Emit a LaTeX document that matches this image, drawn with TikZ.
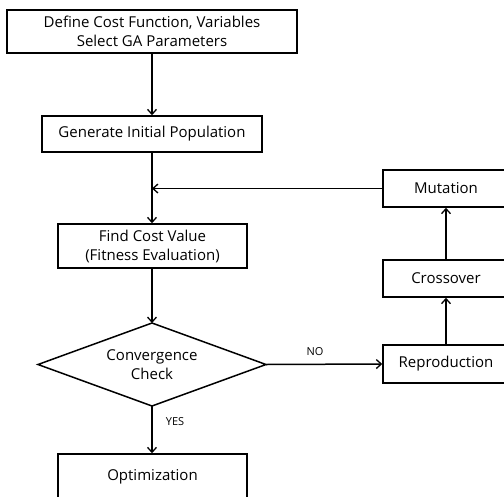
\documentclass[tikz,border=0pt]{standalone}
\usepackage{fontspec}
\setmainfont{Open Sans}
\usetikzlibrary{shapes.geometric,arrows.meta}
\begin{document}
\begin{tikzpicture}[x=1pt,y=-1pt,
  box/.style={draw,line width=1.5pt,rectangle,inner sep=0pt,align=center,font=\fontsize{15}{19}\selectfont},
  txt/.style={align=center,inner sep=0pt,font=\fontsize{15}{19}\selectfont},
  conn/.style={line width=1.5pt,-{Straight Barb[length=5pt,width=9pt,line width=1.3pt]}},
  lbl/.style={font=\fontsize{11}{13}\selectfont,inner sep=0pt}]
\useasboundingbox (0,0) rectangle (504,496);
\clip (0,0) rectangle (504,496);
\node[box,minimum width=290pt,minimum height=43pt] (def) at (152,31.5) {Define Cost Function, Variables\\Select GA Parameters};
\node[box,minimum width=220pt,minimum height=36pt] (gen) at (152,134) {Generate Initial Population};
\node[box,minimum width=189pt,minimum height=44pt] (cost) at (152.5,246) {Find Cost Value\\(Fitness Evaluation)};
\path (152,323) coordinate (dt) (266,364.5) coordinate (dr) (152,406) coordinate (db) (38,364.5) coordinate (dl);
\draw[line width=1.5pt,line join=miter] (dt) -- (dr) -- (db) -- (dl) -- cycle;
\node[txt] (conv) at (152,364.5) {Convergence\\Check};
\node[box,minimum width=189pt,minimum height=46pt] (opt) at (152.5,477) {Optimization};
\node[box,minimum width=126pt,minimum height=37pt] (mut) at (446,188.5) {Mutation};
\node[box,minimum width=126pt,minimum height=37pt] (cro) at (446,278.5) {Crossover};
\node[box,minimum width=126pt,minimum height=38pt] (rep) at (446,364) {Reproduction};
\coordinate (join) at (152,188.5);
\draw[conn] (def.south -| gen) -- (gen.north);
\draw[line width=1.5pt] (gen.south) -- (join);
\draw[conn] (join) -- (cost.north -| join);
\draw[conn] (mut.west) -- (join);
\draw[conn] (cost.south -| join) -- (dt);
\draw[conn] (db) -- (opt.north -| db);
\draw[conn] (dr) -- (rep.west);
\draw[conn] (rep.north) -- (cro.south);
\draw[conn] (cro.north) -- (mut.south);
\node[lbl] (yes) at (175,422) {YES};
\node[lbl] (no) at (315,352) {NO};
\end{tikzpicture}
\end{document}
